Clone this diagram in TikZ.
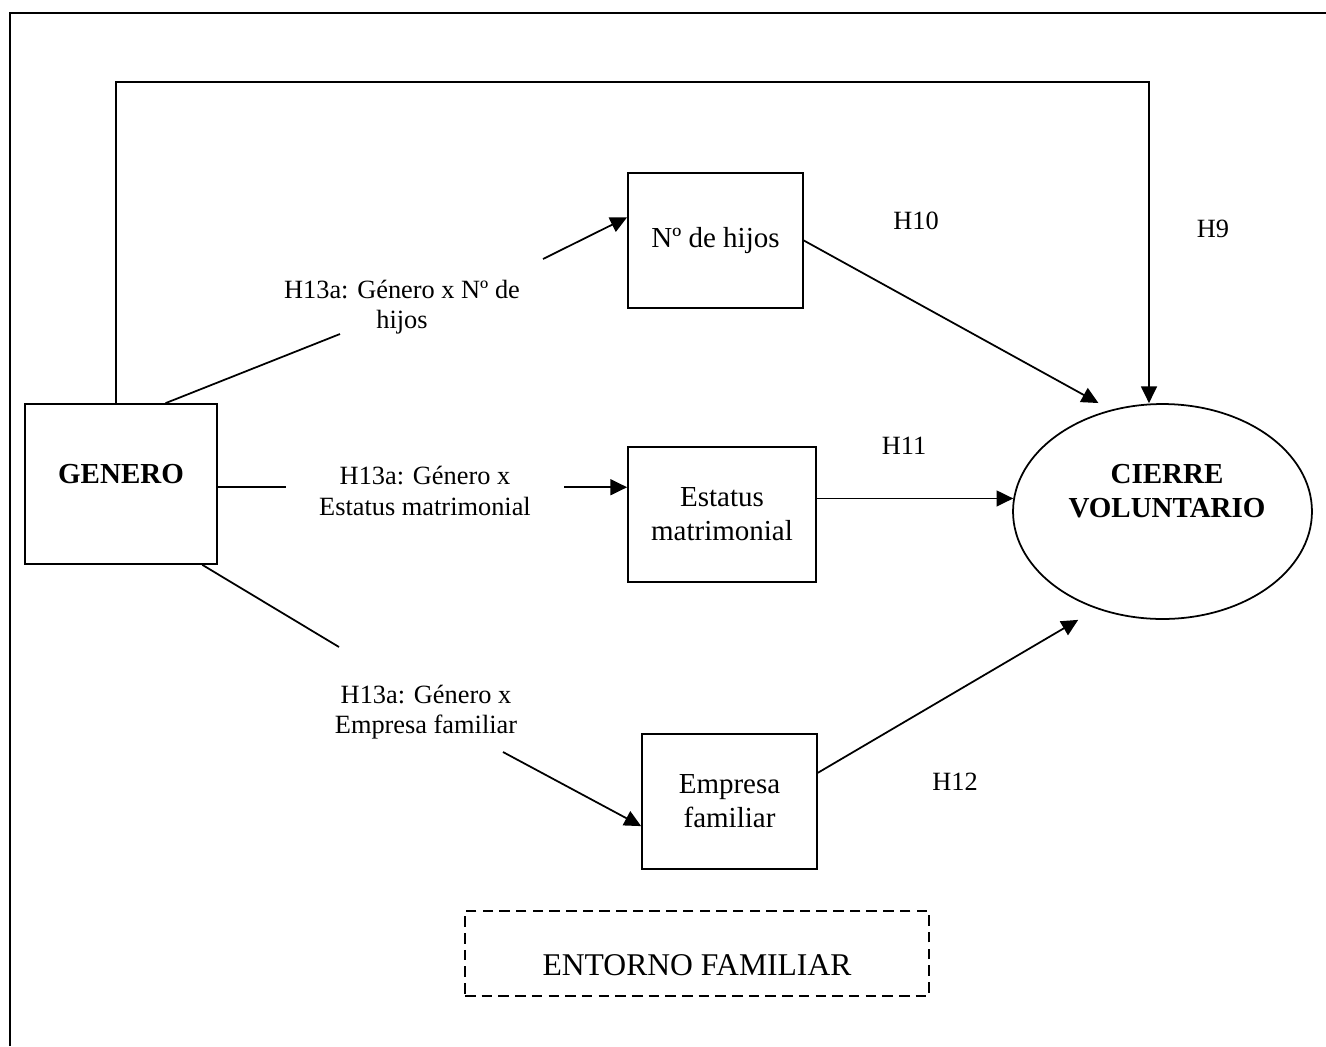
\documentclass[tikz,border=0pt]{standalone}
\usepackage{fontspec}
\setmainfont{Liberation Serif}
\usetikzlibrary{arrows.meta,shapes.geometric,calc}

\newcommand{\lblfont}{\fontsize{15}{17.25}\selectfont}
\newcommand{\boxfont}{\fontsize{16.5}{19.5}\selectfont}
\newcommand{\bigfont}{\fontsize{18}{21}\selectfont}

\begin{document}
\begin{tikzpicture}[x=0.02cm, y=-0.02cm]
  \tikzset{
    varbox/.style={draw, line width=1pt, align=center, font=\boxfont, inner sep=0pt},
    lbl/.style={align=center, font=\lblfont, inner sep=0pt},
    con/.style={line width=1pt},
    arr/.style={line width=1pt, -{Triangle[length=9.5pt, width=9pt]}}
  }
  \useasboundingbox (0,0) rectangle (1326,1046);

  % Frame (only top and left edges visible)
  \draw[line width=1.4pt] (10,1046) -- (10,13) -- (1326,13);

  % Variables
  \node[varbox, font=\boxfont\bfseries, minimum width=3.84cm, minimum height=3.2cm,
        text height=11pt, text depth=11.9pt] (genero) at (121,484) {GENERO};
  \node[varbox, minimum width=3.5cm, minimum height=2.7cm] (hijos) at (715.5,240.5) {Nº de hijos};
  \node[varbox, minimum width=3.76cm, minimum height=2.7cm] (estatus) at (722,514.5) {Estatus\\matrimonial};
  \node[varbox, minimum width=3.5cm, minimum height=2.7cm] (empresa) at (729.5,801.5) {Empresa\\familiar};
  \node[draw, ellipse, line width=1pt, minimum width=5.98cm, minimum height=4.3cm] (cierre) at (1162.5,511.5) {};
  \node[lbl, font=\boxfont\bfseries] (cierretxt) at (1167,491) {CIERRE\\VOLUNTARIO};

  % Entorno familiar
  \node[draw, line width=0.9pt, dash pattern=on 6pt off 3.5pt, minimum width=9.28cm, minimum height=1.7cm,
        font=\bigfont, inner sep=0pt, text height=25pt, text depth=0pt] (entorno) at (697,953.5) {ENTORNO FAMILIAR};

  % Interaction labels
  \node[lbl] (lblhijos) at (402,307) {H13a: Género x Nº de\\hijos};
  \node[lbl, inner xsep=0.66cm] (lblest) at (425,491) {H13a: Género x\\Estatus matrimonial};
  \node[lbl] (lblemp) at (426,712) {H13a: Género x\\Empresa familiar};

  % Hypotheses
  \node[lbl] (h9) at (1213,229) {H9};
  \node[lbl] (h10) at (916,221) {H10};
  \node[lbl] (h11) at (904,446) {H11};
  \node[lbl] (h12) at (955,782) {H12};

  % free ends beside the labels
  \coordinate (h1a) at (340,334);
  \coordinate (h1b) at (543,259);
  \coordinate (e1a) at (339,647);
  \coordinate (e1b) at (503,752);
  \coordinate (topbend) at (1149,82);

  % Genero -> moderators
  \draw[con] ($(genero.north west)!0.73!(genero.north east)$) -- (h1a);
  \draw[arr] (h1b) -- ($(hijos.north west)!0.33!(hijos.south west)$);
  \draw[con] ($(genero.north east)!0.52!(genero.south east)$) coordinate (gout) -- (gout -| lblest.west);
  \draw[arr] (gout -| lblest.east) -- (gout -| estatus.west);
  \draw[con] ($(genero.south west)!0.92!(genero.south east)$) -- (e1a);
  \draw[arr] (e1b) -- ($(empresa.north west)!0.68!(empresa.south west)$);

  % Direct effects on cierre
  \draw[arr] ($(genero.north)+(-5,0)$) |- (topbend) -- (topbend |- cierre.north);
  \draw[arr, shorten >=0.28cm] (hijos.east) -- (cierre.117);
  \draw[arr] (cierre.175 -| estatus.east) -- (cierre.175);
  \draw[arr, shorten >=0.43cm] ($(empresa.north east)!0.29!(empresa.south east)$) -- (cierre.236);

\end{tikzpicture}
\end{document}
